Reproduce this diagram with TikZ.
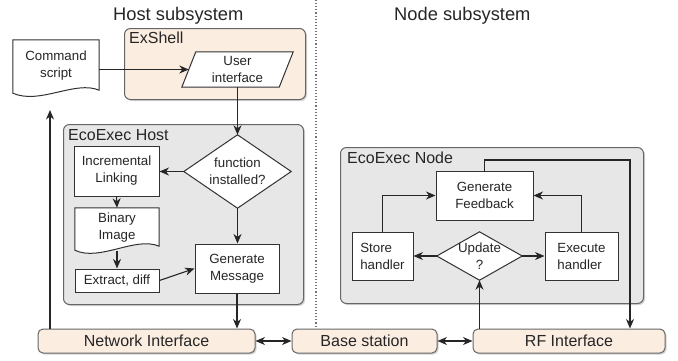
\documentclass[tikz,border=0pt]{standalone}
\usepackage{fontspec}
\setmainfont{Liberation Sans}
\usetikzlibrary{shadows,arrows.meta,calc}
\definecolor{peach}{RGB}{252,237,225}
\definecolor{cgray}{RGB}{231,231,231}
\definecolor{edge}{RGB}{50,50,50}
\pgfdeclarelayer{bg}\pgfdeclarelayer{mid}\pgfsetlayers{bg,mid,main}
\begin{document}
\begin{tikzpicture}[x=1pt,y=-1pt,
  nfont/.style={font=\fontsize{13.3}{17}\selectfont\color{black!85}},
  arr/.style={-{Stealth[length=9.5pt,width=8pt,inset=3pt]}, line width=1.1pt, draw=black!85},
  darr/.style={{Stealth[length=9.5pt,width=8pt,inset=3pt]}-{Stealth[length=9.5pt,width=8pt,inset=3pt]}, line width=1.1pt, draw=black!85},
  hole/.style={nfont, align=center, inner sep=0pt},
  rbox/.style={hole, draw=edge, fill=white, line width=1pt},
  fig/.style={draw=edge, fill=white, line width=1pt},
  shad/.style={drop shadow={opacity=0.35, shadow xshift=1.5pt, shadow yshift=-1.5pt}},
  cont/.style={draw=black!60, fill=cgray, rounded corners=6pt, line width=1pt, shad, inner sep=0pt, anchor=north west},
  iface/.style={draw=black!60, fill=peach, rounded corners=5pt, line width=1pt, shad, inner sep=0pt, minimum height=24pt, font=\fontsize{16}{19}\selectfont\color{black!85}},
  lbl/.style={font=\fontsize{16}{19}\selectfont\color{black!85}, anchor=base west, inner sep=0pt},
  ttl/.style={font=\fontsize{18.3}{22}\selectfont\color{black!85}, anchor=base west, inner sep=0pt}
]
\useasboundingbox (0,0) rectangle (678,360);

% containers
\begin{pgfonlayer}{bg}
\node[cont, fill=peach, minimum width=181pt, minimum height=71pt] (exshell) at (124,28) {};
\node[cont, minimum width=240pt, minimum height=180pt] (ehost) at (63,124) {};
\node[cont, minimum width=303pt, minimum height=156pt] (enode) at (340,147) {};
\end{pgfonlayer}

% titles and divider
\node[ttl] (ht) at (113,20) {Host subsystem};
\node[ttl] (nt) at (394,20) {Node subsystem};
\coordinate (dtop) at (316,0);
\coordinate (dbot) at (316,326);
\draw[dotted, line width=1.1pt, black!55] (dtop) -- (dbot);

% container labels
\node[lbl] (exl) at (129,43) {ExShell};
\node[lbl] (ehl) at (68,140) {EcoExec Host};
\node[lbl] (enl) at (347,163) {EcoExec Node};

% host nodes
\node[hole, minimum width=86pt, minimum height=52pt] (cs) at (56,66) {Command\\script};
\node[hole, minimum width=111pt, minimum height=35pt] (ui) at (237.5,69.5) {User\\interface};
\node[hole, minimum width=107pt, minimum height=73pt] (fi) at (237.5,171.5) {function\\installed?};
\node[rbox, minimum width=85pt, minimum height=50pt] (il) at (116.5,171) {Incremental\\Linking};
\node[hole, minimum width=84pt, minimum height=40pt] (bi) at (117,228) {Binary\\Image};
\node[rbox, minimum width=84pt, minimum height=23pt] (ed) at (117,280.5) {Extract, diff};
\node[rbox, minimum width=84pt, minimum height=49pt] (gm) at (237,268.5) {Generate\\Message};

% node-side nodes
\node[rbox, minimum width=97pt, minimum height=49pt] (gf) at (484.5,195.5) {Generate\\Feedback};
\node[rbox, minimum width=61pt, minimum height=48pt, align=left] (sh) at (382.5,256) {Store\\handler};
\node[rbox, minimum width=73pt, minimum height=48pt, align=left] (eh) at (581.5,256) {Execute\\handler};
\node[hole, minimum width=85pt, minimum height=48pt] (up) at (479.5,256) {Update\\?};

% interfaces
\node[iface, minimum width=217pt] (ni) at (146.5,341) {Network Interface};
\node[iface, minimum width=145pt] (bs) at (364.5,341) {Base station};
\node[iface, minimum width=192pt] (rf) at (569,341) {RF Interface};

% special shapes
\begin{pgfonlayer}{mid}
\draw[fig] (cs.north west) -- (cs.north east) -- ($(cs.south east)+(0,-2)$)
  .. controls (75,80) and (40,105) .. ($(cs.south west)+(0,1)$) -- cycle;
\draw[fig] ($(ui.north west)+(14,0)$) -- (ui.north east) -- ($(ui.south east)+(-14,0)$) -- (ui.south west) -- cycle;
\draw[fig] (fi.north) -- (fi.east) -- (fi.south) -- (fi.west) -- cycle;
\draw[fig] (bi.north west) -- (bi.north east) -- ($(bi.south east)+(0,-2)$)
  .. controls (135,236) and (100,262) .. ($(bi.south west)+(0,2)$) -- cycle;
\draw[fig] (up.north) -- (up.east) -- (up.south) -- (up.west) -- cycle;
\end{pgfonlayer}

% connectors (host)
\coordinate (uil) at ($(ui.west)+(7,0)$);
\coordinate (csin) at (50,110);
\draw[arr] (cs.east |- uil) -- (uil);
\draw[arr] (ui.south) -- (fi.north);
\draw[arr] (fi.west) -- (fi.west -| il.east);
\draw[arr] (il.south) -- (bi.north);
\draw[arr] ($(bi.south)+(0,3)$) -- (ed.north);
\draw[arr] (ed.east) -- (gm.west);
\draw[arr] (fi.south) -- (fi.south |- gm.north);
\draw[arr] (gm.south) -- (gm.south |- ni.north);
\draw[arr] (ni.north west -| csin) -- (csin);

% connectors (interfaces)
\draw[darr] (ni.east) -- (bs.west);
\draw[darr] (bs.east) -- (rf.west);

% connectors (node)
\coordinate (gfc) at (630,160);
\draw[arr] (up.west) -- (sh.east);
\draw[arr] (up.east) -- (eh.west);
\draw[arr] (sh.north) |- (gf.west);
\draw[arr] (eh.north) |- (gf.east);
\draw[arr] (up.south |- rf.north) -- (up.south);
\draw[arr] (gf.north) |- (gfc) -- (gfc |- rf.north);
\end{tikzpicture}
\end{document}
